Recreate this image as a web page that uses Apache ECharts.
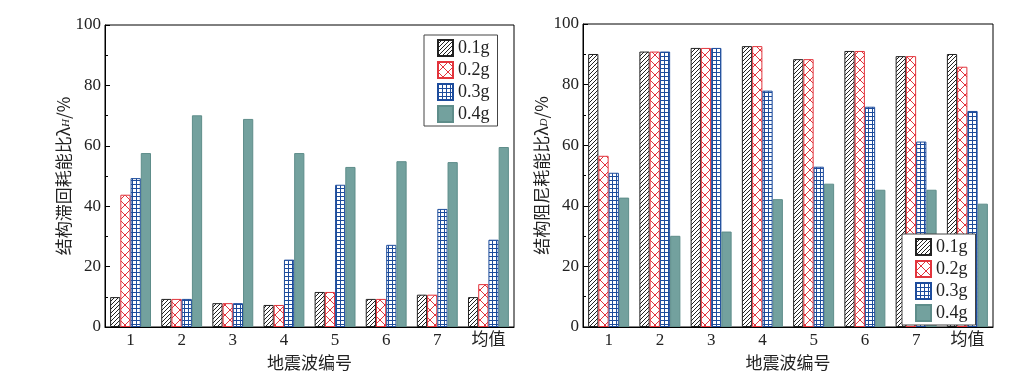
<!DOCTYPE html>
<html><head><meta charset="utf-8">
<script src="https://cdn.jsdelivr.net/npm/echarts@6/dist/echarts.min.js"></script>
<style>html,body{margin:0;padding:0;background:#fff}#c{width:1031px;height:391px}</style>
</head><body><div id="c"></div>
<script>
const categories = ['1','2','3','4','5','6','7','均值'];
const seriesNames = ['0.1g','0.2g','0.3g','0.4g'];
// 结构滞回耗能比 λH (%)
const hyst_01 = [9.9, 9.3, 7.9, 7.3, 11.6, 9.3, 10.7, 9.9];
const hyst_02 = [43.8, 9.3, 7.9, 7.3, 11.6, 9.3, 10.7, 14.2];
const hyst_03 = [49.3, 9.3, 7.9, 22.3, 47.1, 27.2, 39.1, 28.9];
const hyst_04 = [57.6, 70.1, 68.9, 57.6, 53.0, 54.9, 54.6, 59.6];
// 结构阻尼耗能比 λD (%)
const damp_01 = [90.1, 90.9, 92.1, 92.7, 88.4, 91.1, 89.4, 90.1];
const damp_02 = [56.5, 90.9, 92.1, 92.7, 88.4, 91.1, 89.4, 85.9];
const damp_03 = [50.9, 90.9, 92.1, 78.0, 52.9, 72.7, 61.2, 71.3];
const damp_04 = [42.7, 30.1, 31.5, 42.2, 47.3, 45.3, 45.3, 40.7];
const yTicks = [0, 20, 40, 60, 80, 100];

const FONT = "'Liberation Serif', 'Noto Sans CJK SC', serif";
const CJK = "'Noto Sans CJK SC', sans-serif";

function pat(kind) {
  const c = document.createElement('canvas');
  const ctx = c.getContext('2d');
  if (kind === 0) {
    c.width = 4; c.height = 4;
    ctx.fillStyle = '#fff'; ctx.fillRect(0,0,4,4);
    ctx.fillStyle = '#222';
    for (let i = 0; i < 4; i++) ctx.fillRect(i, 3 - i, 1, 1);
  } else if (kind === 1) {
    c.width = 10; c.height = 10;
    ctx.fillStyle = '#fff'; ctx.fillRect(0,0,10,10);
    ctx.strokeStyle = '#e2343c'; ctx.lineWidth = 1;
    ctx.beginPath();
    ctx.moveTo(0,0); ctx.lineTo(10,10);
    ctx.moveTo(10,0); ctx.lineTo(0,10);
    ctx.stroke();
  } else if (kind === 2) {
    c.width = 4; c.height = 4;
    ctx.fillStyle = '#fff'; ctx.fillRect(0,0,4,4);
    ctx.fillStyle = '#1d4c9c';
    ctx.fillRect(0,0,4,1); ctx.fillRect(0,0,1,4);
  }
  return c;
}
const styles = [
  {color: {image: pat(0), repeat: 'repeat'}, borderColor: '#222', borderWidth: 1},
  {color: {image: pat(1), repeat: 'repeat'}, borderColor: '#e2343c', borderWidth: 1},
  {color: {image: pat(2), repeat: 'repeat'}, borderColor: '#1d4c9c', borderWidth: 1},
  {color: '#73a19e', borderColor: '#5e8d8a', borderWidth: 1}
];
const hystData = [hyst_01, hyst_02, hyst_03, hyst_04];
const dampData = [damp_01, damp_02, damp_03, damp_04];

function yAxis(idx, sub) {
  return {
    type: 'value', gridIndex: idx, min: yTicks[0], max: yTicks[yTicks.length-1], interval: 20,
    name: (idx === 0 ? '{a|结构滞回耗能比λ}' : '{a|结构阻尼耗能比λ}') + '{s|' + sub + '}{a|/%}',
    nameLocation: 'middle', nameRotate: 90, nameGap: 31,
    nameTextStyle: {rich: {
      a: {fontFamily: CJK, fontSize: 17, color: '#222'},
      s: {fontFamily: FONT, fontStyle: 'italic', fontSize: 11, color: '#222', verticalAlign: 'bottom', padding: [6,0,0,0]}
    }},
    axisLine: {show: true, lineStyle: {color: '#000', width: 1}},
    axisTick: {show: true, inside: true, length: 5, lineStyle: {color: '#000'}},
    minorTick: {show: true, splitNumber: 2, length: 3, lineStyle: {color: '#000'}},
    axisLabel: {fontFamily: FONT, fontSize: 17, color: '#222', margin: 4},
    splitLine: {show: false}
  };
}
function xAxis(idx) {
  return {
    type: 'category', gridIndex: idx, data: categories,
    name: '地震波编号', nameLocation: 'middle', nameGap: 27,
    nameTextStyle: {fontFamily: CJK, fontSize: 17, color: '#222'},
    axisLine: {show: true, lineStyle: {color: '#000', width: 1}},
    axisTick: {show: false},
    axisLabel: {fontFamily: FONT, fontSize: 17, color: '#222', margin: 5},
    splitLine: {show: false}
  };
}
const series = [];
[hystData, dampData].forEach((dd, g) => {
  dd.forEach((arr, i) => {
    series.push({
      type: 'bar', name: seriesNames[i], xAxisIndex: g, yAxisIndex: g,
      data: arr, barGap: '0%', barCategoryGap: '20%',
      itemStyle: styles[i], z: 2
    });
  });
});
function legend(left, top) {
  return {
    left: left, top: top, orient: 'vertical', data: seriesNames,
    icon: 'rect',
    itemWidth: 15, itemHeight: 16, itemGap: 4,
    padding: [4, 8, 3, 13],
    borderColor: '#444', borderWidth: 1, backgroundColor: '#fff',
    textStyle: {fontFamily: FONT, fontSize: 18, color: '#222'},
    selectedMode: false
  };
}
const chart = echarts.init(document.getElementById('c'), null, {renderer: 'canvas'});
chart.setOption({
  backgroundColor: '#fff',
  animation: false,
  grid: [
    {left: 105, right: 517, top: 25, bottom: 64, show: true, borderColor: '#000', borderWidth: 1, backgroundColor: 'transparent'},
    {left: 583, right: 38, top: 24, bottom: 64, show: true, borderColor: '#000', borderWidth: 1, backgroundColor: 'transparent'}
  ],
  xAxis: [xAxis(0), xAxis(1)],
  yAxis: [yAxis(0, 'H'), yAxis(1, 'D')],
  legend: [legend(424, 35), legend(902, 234)],
  series: series
});
</script></body></html>
